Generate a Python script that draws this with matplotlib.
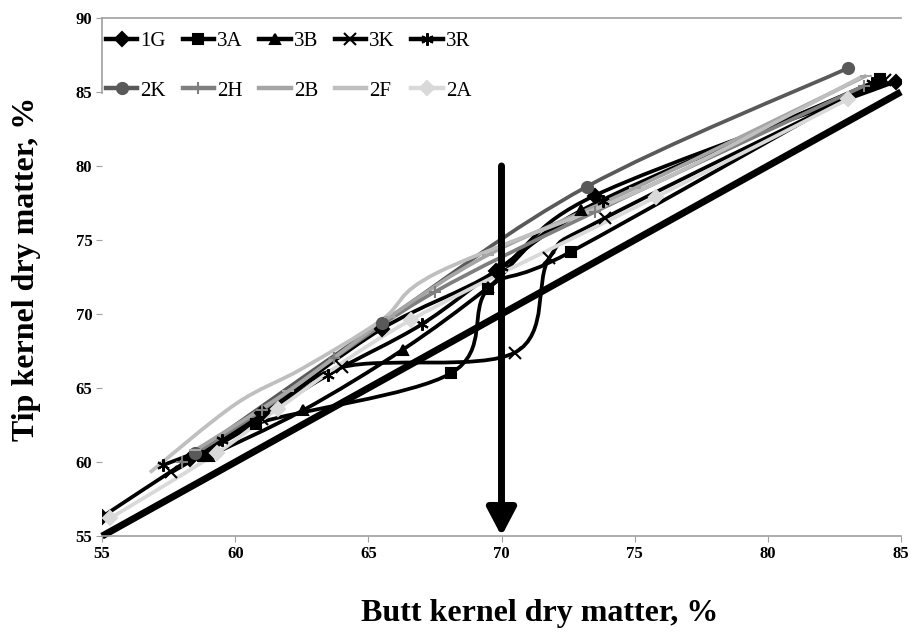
import matplotlib
matplotlib.use('Agg')
import matplotlib.pyplot as plt
import numpy as np
from matplotlib.path import Path
from matplotlib.patches import PathPatch
from matplotlib.lines import Line2D

plt.rcParams['font.family'] = ['Liberation Serif', 'DejaVu Serif']

# butt / tip kernel dry matter (%) per hybrid
names = ['1G', '3A', '3B', '3K', '3R', '2K', '2H', '2B', '2F', '2A']
x_1G = [55.0, 58.3, 61.0, 65.5, 69.8, 73.5, 84.8]
y_1G = [56.3, 60.2, 63.3, 69.0, 72.9, 78.0, 85.7]
x_3A = [58.8, 60.8, 68.1, 69.5, 72.6, 84.2]
y_3A = [60.4, 62.6, 66.0, 71.7, 74.2, 85.9]
x_3B = [59.0, 62.55, 66.3, 69.5, 73.0, 84.0]
y_3B = [60.4, 63.5, 67.6, 71.8, 77.0, 85.6]
x_3K = [57.6, 61.0, 64.0, 70.5, 71.8, 73.9, 84.4]
y_3K = [59.3, 62.9, 66.4, 67.4, 73.8, 76.5, 85.8]
x_3R = [57.3, 59.5, 63.5, 67.0, 70.0, 73.8, 83.9]
y_3R = [59.8, 61.5, 65.9, 69.3, 73.2, 77.6, 85.6]
x_2K = [58.5, 65.5, 73.2, 83.0]
y_2K = [60.6, 69.4, 78.6, 86.6]
x_2H = [58.0, 61.0, 63.7, 67.5, 73.5, 83.6]
y_2H = [60.0, 63.5, 67.0, 71.5, 76.9, 85.4]
x_2B = [58.5, 62.0, 65.8, 69.5, 75.0, 83.7]
y_2B = [60.8, 64.8, 69.8, 74.0, 78.5, 86.1]
x_2F = [56.8, 60.0, 62.5, 65.5, 67.6, 75.5, 83.5]
y_2F = [59.3, 63.9, 66.3, 69.6, 72.8, 78.6, 86.0]
x_2A = [55.3, 59.3, 61.6, 66.6, 75.8, 83.0]
y_2A = [56.2, 60.6, 63.6, 69.6, 77.9, 84.5]

xs = [x_1G, x_3A, x_3B, x_3K, x_3R, x_2K, x_2H, x_2B, x_2F, x_2A]
ys = [y_1G, y_3A, y_3B, y_3K, y_3R, y_2K, y_2H, y_2B, y_2F, y_2A]

colors = ['black'] * 5 + ['#595959', '#7f7f7f', '#a5a5a5', '#bfbfbf', '#d9d9d9']
markers = ['D', 's', '^', 'x', (6, 2, 0), 'o', '+', '_', 'None', 'D']
msizes = [7, 7, 7, 8, 9, 8, 9, 8, 7, 7]


def smooth(px, py):
    # excel-like smoothed line: bezier through the points
    pts = np.column_stack([px, py])
    n = len(pts)
    verts = [pts[0]]
    codes = [Path.MOVETO]
    for i in range(n - 1):
        p0 = pts[max(i - 1, 0)]
        p1 = pts[i]
        p2 = pts[i + 1]
        p3 = pts[min(i + 2, n - 1)]
        verts += [p1 + (p2 - p0) / 6.0, p2 - (p3 - p1) / 6.0, p2]
        codes += [Path.CURVE4] * 3
    return Path(verts, codes)


fig = plt.figure(figsize=(9.11, 6.39), dpi=100)
ax = fig.add_axes([0.112, 0.161, 0.877, 0.811])

# 1:1 line
ax.plot([55, 85], [55, 85], color='black', lw=5, solid_capstyle='butt', clip_on=False, zorder=1)

handles = []
for i in range(len(names)):
    patch = PathPatch(smooth(xs[i], ys[i]), facecolor='none', edgecolor=colors[i], lw=2.7, zorder=2)
    ax.add_patch(patch)
    ax.plot(xs[i], ys[i], ls='None', marker=markers[i], ms=msizes[i], color=colors[i],
            mec=colors[i], mew=1.5, zorder=3)
    handles.append(Line2D([], [], color=colors[i], lw=3.2, marker=markers[i], ms=msizes[i], mew=1.5))

# arrow at 70 %
ax.annotate('', xy=(70, 55), xytext=(70, 80),
            arrowprops=dict(arrowstyle='-|>,head_length=0.38,head_width=0.2', lw=5, color='black',
                            mutation_scale=44, shrinkA=0, shrinkB=0), zorder=4)

ax.set_xlim(55, 85)
ax.set_ylim(55, 90)
ax.set_xticks(np.arange(55, 86, 5))
ax.set_yticks(np.arange(55, 91, 5))

ax.spines['right'].set_visible(False)
for s in ['top', 'bottom', 'left']:
    ax.spines[s].set_color('#a0a0a0')
    ax.spines[s].set_linewidth(1.2)
ax.spines['left'].set_bounds(84.9, 90)

ax.tick_params(axis='both', direction='out', length=4, color='#a0a0a0', labelsize=12, pad=3)
for lab in ax.get_xticklabels() + ax.get_yticklabels():
    lab.set_fontweight('bold')

ax.set_xlabel('Butt kernel dry matter, %', fontsize=23, fontweight='bold')
ax.xaxis.set_label_coords(0.548, -0.122)
ax.set_ylabel('Tip kernel dry matter, %', fontsize=23, fontweight='bold')
ax.yaxis.set_label_coords(-0.077, 0.515)

# legend: 2 rows x 5 columns, filled row-wise
order = [0, 5, 1, 6, 2, 7, 3, 8, 4, 9]
ax.legend([handles[k] for k in order], [names[k] for k in order], ncol=5, loc='upper left',
          bbox_to_anchor=(0.0, 0.982), frameon=False, fontsize=15, handlelength=1.5,
          handletextpad=0.15, columnspacing=0.8, labelspacing=1.45, borderpad=0.1,
          borderaxespad=0.1)

fig.savefig('out.png', dpi=100)
